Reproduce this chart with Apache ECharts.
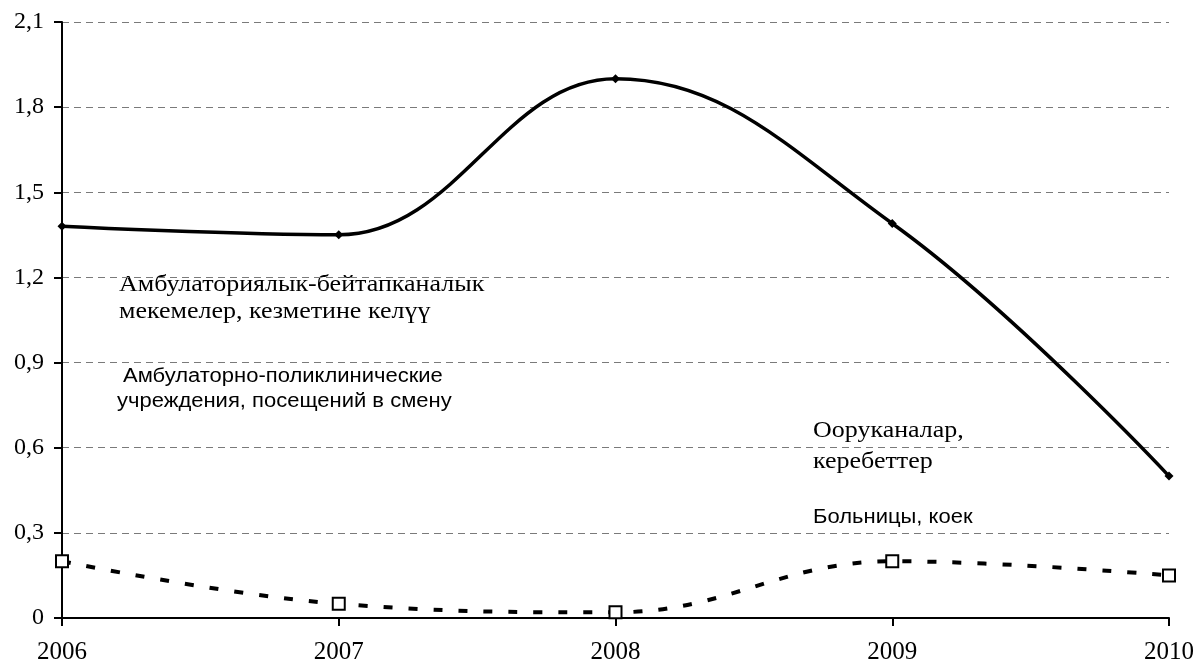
<!DOCTYPE html>
<html>
<head>
<meta charset="utf-8">
<script src="https://cdn.jsdelivr.net/npm/echarts@6/dist/echarts.min.js"></script>
<style>
  html, body { margin: 0; padding: 0; background: #fff; }
  #chart { width: 1197px; height: 666px; }
</style>
</head>
<body>
<div id="chart"></div>
<script>
const years = ['2006', '2007', '2008', '2009', '2010']
const visits = [1.38, 1.35, 1.9, 1.39, 0.5]
const beds = [0.2, 0.05, 0.02, 0.2, 0.15]
const yTicks = { min: 0, max: 2.1, interval: 0.3 }

const serif = '"Liberation Serif", "DejaVu Serif", serif'
const sans = '"Liberation Sans", Arial, sans-serif'

const fmt = (v) => (Math.abs(v) < 1e-9 ? '0' : (Math.round(v * 10) / 10).toFixed(1).replace('.', ','))

// annotation text, horizontally stretched like the source picture
function note(text, left, top, font, sx) {
  return { type: 'text', left, top, scaleX: sx, style: { text, font, fill: '#000' } }
}

const chart = echarts.init(document.getElementById('chart'))

chart.setOption({
  animation: false,
  grid: { left: 62, right: 27, top: 22, bottom: 48 },
  xAxis: {
    type: 'category',
    data: years,
    boundaryGap: false,
    axisLine: { lineStyle: { color: '#000', width: 2 } },
    axisTick: { show: true, alignWithLabel: true, length: 8, lineStyle: { color: '#000', width: 2 } },
    axisLabel: { color: '#000', fontFamily: serif, fontSize: 25, margin: 22 },
    splitLine: { show: false },
  },
  yAxis: {
    type: 'value',
    min: yTicks.min,
    max: yTicks.max,
    interval: yTicks.interval,
    axisLine: { show: true, lineStyle: { color: '#000', width: 2 } },
    axisTick: { show: true, length: 8, lineStyle: { color: '#000', width: 2 } },
    axisLabel: { color: '#000', fontFamily: serif, fontSize: 24, margin: 18, formatter: fmt },
    splitLine: { show: true, lineStyle: { color: '#7a7a7a', width: 1, type: [7, 5] } },
  },
  series: [
    {
      name: 'visits',
      type: 'line',
      data: visits,
      smooth: 0.4,
      symbol: 'diamond',
      symbolSize: 9,
      itemStyle: { color: '#000' },
      lineStyle: { color: '#000', width: 3.5 },
      z: 3,
    },
    {
      name: 'beds',
      type: 'line',
      data: beds,
      smooth: 0.4,
      symbol: 'rect',
      symbolSize: 12,
      itemStyle: { color: '#fff', borderColor: '#000', borderWidth: 2 },
      lineStyle: { color: '#000', width: 4, type: [9, 16] },
      z: 4,
    },
  ],
  graphic: [
    note('Амбулаториялык-бейтапканалык', 119, 273, '23px ' + serif, 1.13),
    note('мекемелер, кезметине келүү', 119, 300, '23px ' + serif, 1.13),
    note('Амбулаторно-поликлинические', 123, 366, '20px ' + sans, 1.1),
    note('учреждения, посещений в смену', 117, 391, '20px ' + sans, 1.1),
    note('Ооруканалар,', 813, 419, '23px ' + serif, 1.13),
    note('керебеттер', 813, 450, '23px ' + serif, 1.13),
    note('Больницы, коек', 813, 507, '20px ' + sans, 1.1),
  ],
})
</script>
</body>
</html>
